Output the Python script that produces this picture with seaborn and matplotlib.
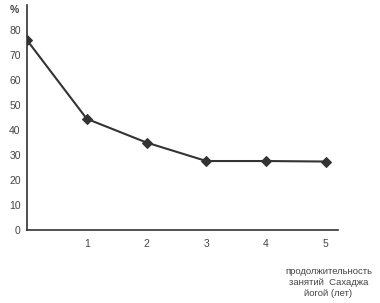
import matplotlib
matplotlib.use("Agg")
import matplotlib.pyplot as plt
import seaborn as sns
import pandas as pd

# duration of Sahaja Yoga practice (years) vs percentage
years = [0, 1, 2, 3, 4, 5]
percent = [76, 44.5, 35, 27.6, 27.6, 27.4]
yticks = [0, 10, 20, 30, 40, 50, 60, 70, 80]
xticks = [1, 2, 3, 4, 5]

sns.set_style("white")
plt.rcParams['font.family'] = ['Liberation Sans', 'DejaVu Sans']

df = pd.DataFrame({"years": years, "percent": percent})

fig = plt.figure(figsize=(3.8, 3.03), dpi=100)
ax = fig.add_axes([0.071, 0.241, 0.818, 0.742])

sns.lineplot(data=df, x="years", y="percent", ax=ax, color="#333333",
             linewidth=1.5, marker="D", markersize=5, markeredgecolor="#333333")

ax.set_xlim(0, 5.2)
ax.set_ylim(0, 90)
ax.set_yticks(yticks)
ax.set_xticks(xticks)
ax.set_xlabel("")
ax.set_ylabel("")
for s in ["top", "right"]:
    ax.spines[s].set_visible(False)
for s in ["left", "bottom"]:
    ax.spines[s].set_color("#333333")
    ax.spines[s].set_linewidth(1.2)
ax.tick_params(axis="both", direction="inout", length=5, width=1,
               color="#333333", labelsize=7.5, labelcolor="#444444")
ax.tick_params(axis="x", pad=4)
ax.tick_params(axis="y", pad=2)

fig.text(14 / 380, 1 - 10 / 303, "%", fontsize=7.5, color="#444444",
         ha="center", va="center", fontweight="bold")
fig.text(372 / 380, 1 - 267 / 303,
         "продолжительность\nзанятий  Сахаджа\nйогой (лет)",
         fontsize=6.8, color="#444444", ha="right", va="top",
         multialignment="center", linespacing=1.25)

fig.savefig("out.png", dpi=100)
